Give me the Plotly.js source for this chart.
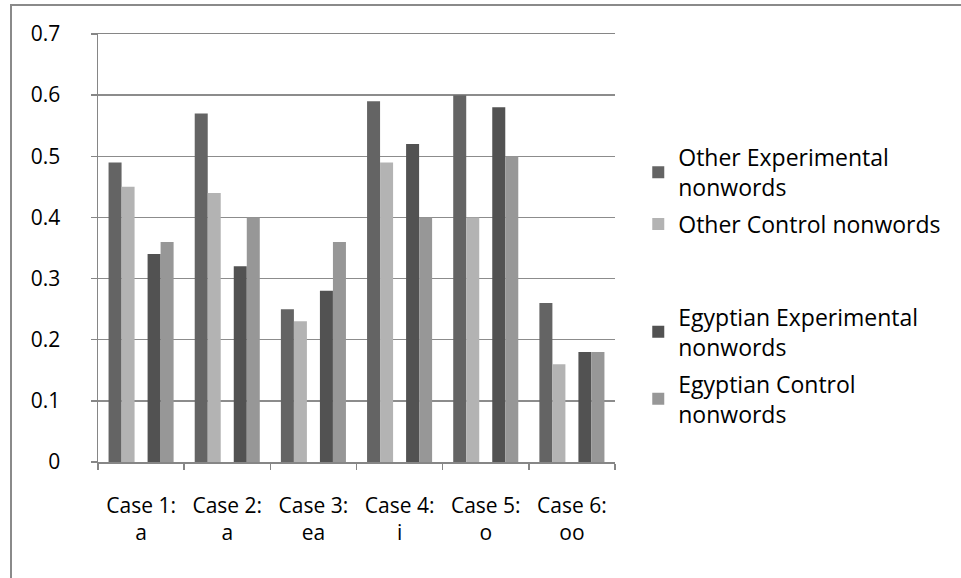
<!DOCTYPE html>
<html>
<head>
<meta charset="utf-8">
<script src="https://cdn.plot.ly/plotly-3.0.1.min.js"></script>
<style>
  html, body { margin: 0; padding: 0; background: #fff; }
  #wrap { position: relative; width: 961px; height: 578px; }
  #chart { width: 961px; height: 578px; }
  #frame { position: absolute; left: 10px; top: 4px; width: 951px; height: 574px;
           border-left: 2px solid #8a8a8a; border-top: 2px solid #8a8a8a; box-sizing: border-box; pointer-events: none; }
</style>
</head>
<body>
<div id="wrap">
  <div id="chart"></div>
  <div id="frame"></div>
</div>
<script>
const categories = ["Case 1:<br>a", "Case 2:<br>a", "Case 3:<br>ea", "Case 4:<br>i", "Case 5:<br>o", "Case 6:<br>oo"];
const otherExperimental = [0.49, 0.57, 0.25, 0.59, 0.60, 0.26];
const otherControl = [0.45, 0.44, 0.23, 0.49, 0.40, 0.16];
const blankSeries = [null, null, null, null, null, null];
const egyptianExperimental = [0.34, 0.32, 0.28, 0.52, 0.58, 0.18];
const egyptianControl = [0.36, 0.40, 0.36, 0.40, 0.50, 0.18];
const seriesNames = ["Other Experimental<br>nonwords", "Other Control nonwords", " ", "Egyptian Experimental<br>nonwords", "Egyptian Control<br>nonwords"];
const yTicks = [0, 0.1, 0.2, 0.3, 0.4, 0.5, 0.6, 0.7];
const yTickLabels = ["0", "0.1", "0.2", "0.3", "0.4", "0.5", "0.6", "0.7"];

const colors = ["#646464", "#b3b3b3", "rgba(0,0,0,0)", "#525252", "#979797"];
const values = [otherExperimental, otherControl, blankSeries, egyptianExperimental, egyptianControl];

const traces = values.map((v, i) => {
  const t = {
    type: "bar",
    x: categories,
    y: v,
    name: seriesNames[i],
    legendgroup: "g" + i,
    marker: { color: colors[i], line: { width: 0 } },
    hoverinfo: "skip"
  };
  if (i === 2) {
    t.legendgrouptitle = { text: "&nbsp;", font: { size: 1, color: "rgba(0,0,0,0)" } };
  }
  return t;
});

const FONT = "Open Sans, sans-serif";

const layout = {
  width: 961,
  height: 578,
  margin: { l: 98, r: 346, t: 34, b: 116 },
  paper_bgcolor: "#ffffff",
  plot_bgcolor: "#ffffff",
  barmode: "group",
  bargap: 0.245,
  bargroupgap: 0,
  showlegend: true,
  font: { family: FONT, size: 21, color: "#000" },
  xaxis: {
    type: "category",
    tickson: "boundaries",
    ticks: "outside",
    ticklen: 6,
    tickcolor: "#868686",
    tickwidth: 1.5,
    showline: true,
    mirror: true,
    linecolor: "#868686",
    linewidth: 1.5,
    showgrid: false,
    ticklabelstandoff: 24,
    tickfont: { family: FONT, size: 21, color: "#000" }
  },
  yaxis: {
    range: [0, 0.7],
    tickvals: yTicks,
    ticktext: yTickLabels,
    ticks: "outside",
    ticklen: 6,
    tickcolor: "#868686",
    tickwidth: 1.5,
    showline: true,
    linecolor: "#868686",
    linewidth: 1.5,
    showgrid: true,
    gridcolor: "#8c8c8c",
    gridwidth: 1.5,
    zeroline: false,
    ticklabelstandoff: 26,
    tickfont: { family: FONT, size: 21, color: "#000" }
  },
  legend: {
    x: 1.045,
    xanchor: "left",
    y: 0.762,
    yanchor: "top",
    font: { family: FONT, size: 23, color: "#000" },
    bgcolor: "rgba(0,0,0,0)",
    traceorder: "grouped",
    tracegroupgap: 4,
    itemclick: false
  }
};

Plotly.newPlot("chart", traces, layout, { staticPlot: true, displayModeBar: false });
</script>
</body>
</html>
